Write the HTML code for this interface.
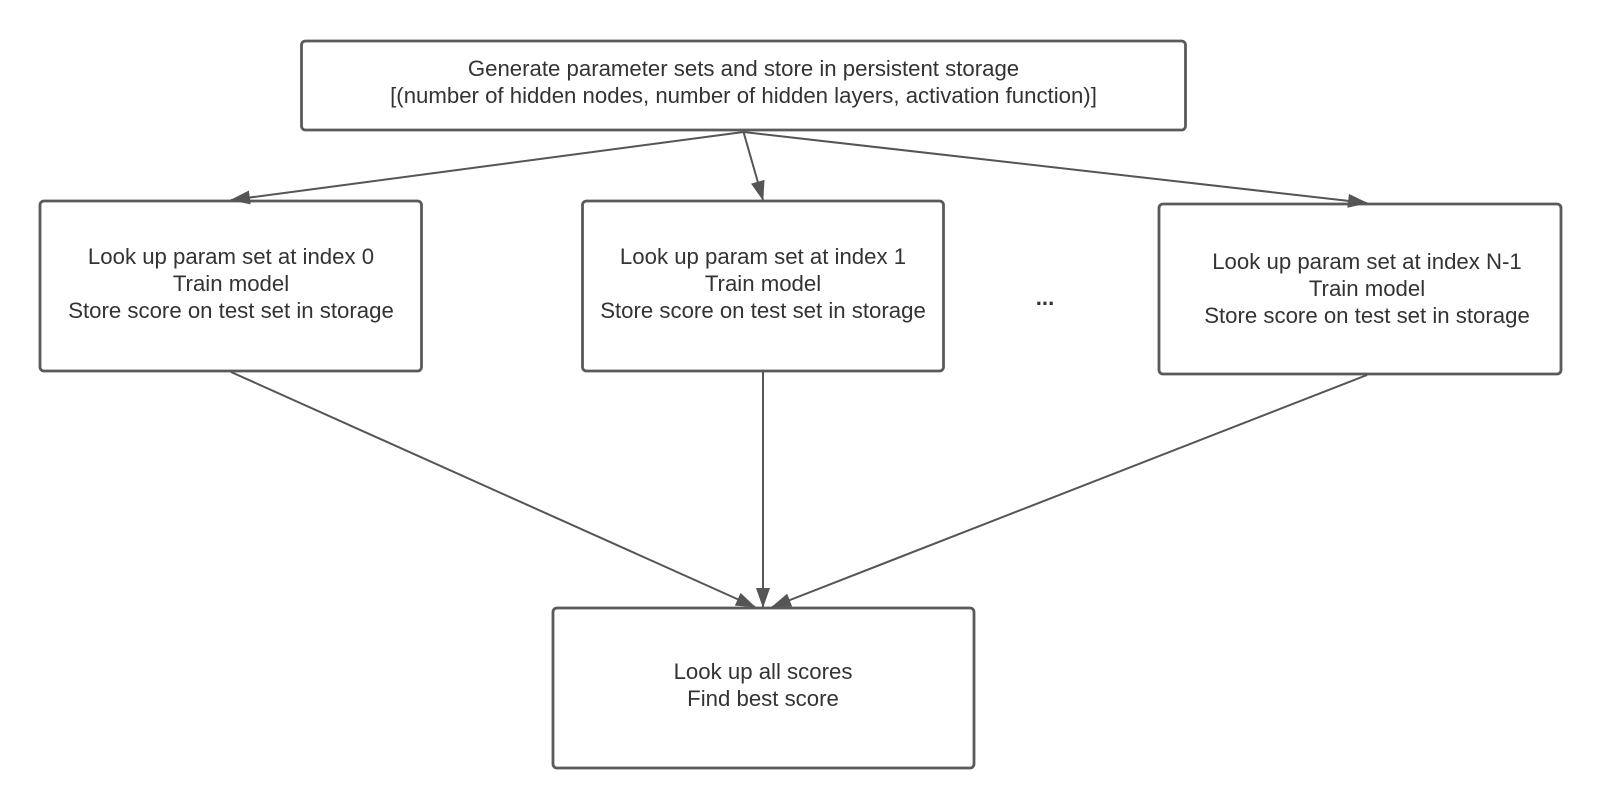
<!DOCTYPE html>
<html><head><style>
body{margin:0;background:#fff;}
svg text{font-family:"Liberation Sans",sans-serif;font-size:22.2px;fill:#333;text-anchor:middle;}
</style></head><body>
<svg width="1600" height="805" viewBox="0 0 1600 805" xmlns="http://www.w3.org/2000/svg">
<defs>
<marker id="b" markerWidth="20" markerHeight="14" refX="19" refY="7" orient="auto" markerUnits="userSpaceOnUse"><path d="M0,0 L20,7 L0,14 z" fill="#555"/></marker></defs>
<g fill="#fff" stroke="#5a5a5a" stroke-width="2.8">
<rect x="301.5" y="41" width="884" height="89" rx="4"/>
<rect x="40" y="201" width="381.5" height="170" rx="4"/>
<rect x="582.5" y="201" width="361" height="170" rx="4"/>
<rect x="1159" y="204" width="402" height="170" rx="4"/>
<rect x="553" y="608" width="421" height="160" rx="4"/>
</g>
<g stroke="#555" stroke-width="2" fill="none">
<line x1="743.5" y1="132" x2="231" y2="200" marker-end="url(#b)"/>
<line x1="743.5" y1="132" x2="763" y2="200" marker-end="url(#b)"/>
<line x1="743.5" y1="132" x2="1367" y2="203" marker-end="url(#b)"/>
<line x1="231" y1="372" x2="755" y2="607" marker-end="url(#b)"/>
<line x1="763" y1="372" x2="763" y2="607" marker-end="url(#b)"/>
<line x1="1367" y1="375" x2="772" y2="607" marker-end="url(#b)"/>
</g>
<text x="743.5" y="76">Generate parameter sets and store in persistent storage</text>
<text x="743.5" y="103">[(number of hidden nodes, number of hidden layers, activation function)]</text>
<text x="231" y="264">Look up param set at index 0</text>
<text x="231" y="291">Train model</text>
<text x="231" y="318">Store score on test set in storage</text>
<text x="763" y="264">Look up param set at index 1</text>
<text x="763" y="291">Train model</text>
<text x="763" y="318">Store score on test set in storage</text>
<text x="1367" y="269">Look up param set at index N-1</text>
<text x="1367" y="296">Train model</text>
<text x="1367" y="323">Store score on test set in storage</text>
<text x="1045" y="305" style="font-weight:bold">...</text>
<text x="763" y="679">Look up all scores</text>
<text x="763" y="706">Find best score</text>
</svg>
</body></html>
